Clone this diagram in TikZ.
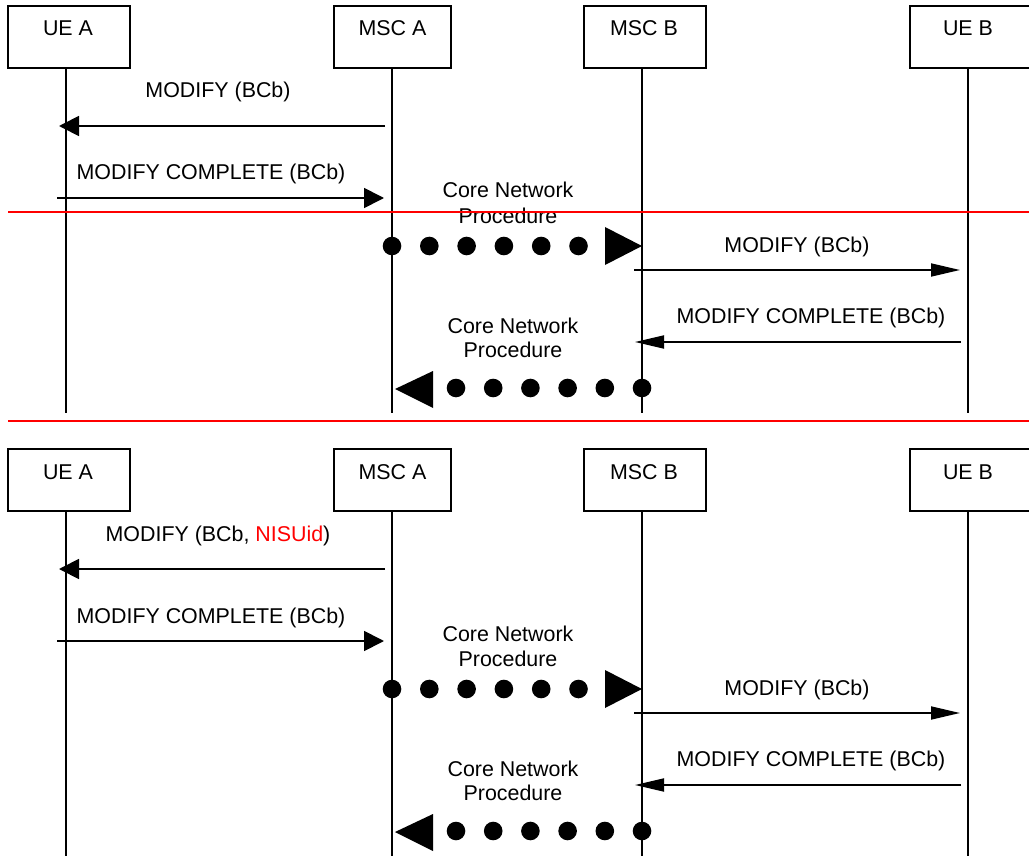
\documentclass[tikz,border=0pt]{standalone}
\usepackage{fontspec}
\setmainfont{Liberation Sans}
\usetikzlibrary{arrows.meta}
\tikzset{
  box/.style={draw, line width=1.6pt, minimum width=122pt, minimum height=62pt, inner sep=0pt},
  lbl/.style={font=\fontsize{21.4}{25}\selectfont, inner sep=0pt, anchor=base},
  life/.style={line width=1.6pt},
  msgA/.style={line width=1.8pt, -{Triangle[length=20pt,width=20pt]}},
  msgB/.style={line width=1.8pt, -{Triangle[length=29pt,width=13pt]}},
  redline/.style={draw=red, line width=1.8pt},
  dot/.style={fill=black},
}
\newcommand\seqpart[2]{%
  % boxes
  \node[box] (#1ua) at (69,37) {};
  \node[box, minimum width=117pt] (#1ma) at (392.5,37) {};
  \node[box] (#1mb) at (645,37) {};
  \node[box, minimum width=124pt] (#1ub) at (972,37) {};
  \node[lbl] (#1uat) at (68,36) {UE A};
  \node[lbl] (#1mat) at (392.5,36) {MSC A};
  \node[lbl] (#1mbt) at (644,36) {MSC B};
  \node[lbl] (#1ubt) at (968,36) {UE B};
  % lifelines
  \coordinate (#1LA) at (66,413);
  \coordinate (#1LB) at (392,413);
  \coordinate (#1LC) at (642,413);
  \coordinate (#1LD) at (968,413);
  \draw[life] (#1LA |- #1ua.south) -- (#1LA);
  \draw[life] (#1LB |- #1ma.south) -- (#1LB);
  \draw[life] (#1LC |- #1mb.south) -- (#1LC);
  \draw[life] (#1LD |- #1ub.south) -- (#1LD);
  % messages UE A <-> MSC A
  \node[lbl] (#1l1) at (218,98) {#2};
  \draw[msgA] ([xshift=-7pt]#1LB |- 0,126) -- ([xshift=-7pt]#1LA |- 0,126);
  \node[lbl] (#1l2) at (211,180) {MODIFY COMPLETE (BCb)};
  \draw[msgA] ([xshift=-9pt]#1LA |- 0,198) -- ([xshift=-8pt]#1LB |- 0,198);
  % core network procedure MSC A -> MSC B
  \node[lbl] (#1c1a) at (508,198) {Core Network};
  \node[lbl] (#1c1b) at (508,223) {Procedure};
  \foreach \k in {0,...,5} \fill[dot] ([xshift=\k*37.3pt]#1LB |- 0,246) circle (9.3pt);
  \fill[dot] (#1LC |- 0,246) -- ([xshift=-37pt]#1LC |- 0,227) -- ([xshift=-37pt]#1LC |- 0,265) -- cycle;
  % MSC B <-> UE B
  \node[lbl] (#1l3) at (797,252) {MODIFY (BCb)};
  \draw[msgB] ([xshift=-8pt]#1LC |- 0,270) -- ([xshift=-8pt]#1LD |- 0,270);
  \node[lbl] (#1l4) at (811,323) {MODIFY COMPLETE (BCb)};
  \draw[msgB] ([xshift=-7pt]#1LD |- 0,342) -- ([xshift=-7pt]#1LC |- 0,342);
  % core network procedure MSC B -> MSC A
  \node[lbl] (#1c2a) at (513,333) {Core Network};
  \node[lbl] (#1c2b) at (513,357) {Procedure};
  \foreach \k in {0,...,5} \fill[dot] ([xshift=-\k*37.2pt]#1LC |- 0,388) circle (9.3pt);
  \fill[dot] ([xshift=3pt]#1LB |- 0,389) -- ([xshift=41pt]#1LB |- 0,371) -- ([xshift=41pt]#1LB |- 0,408) -- cycle;
}
\begin{document}
\begin{tikzpicture}[x=1pt,y=-1pt]
  \useasboundingbox (0,0) rectangle (1029,856);
  \fill[white] (0,0) rectangle (1029,856);
  \begin{scope}
    \seqpart{t}{MODIFY (BCb)}
  \end{scope}
  \begin{scope}[yshift=-443pt]
    \seqpart{b}{MODIFY (BCb, \textcolor{red}{NISUid})}
  \end{scope}
  \coordinate (r1s) at (8,212);
  \coordinate (r1e) at (1029,212);
  \coordinate (r2s) at (8,421);
  \coordinate (r2e) at (1029,421);
  \draw[redline] (r1s) -- (r1e);
  \draw[redline] (r2s) -- (r2e);
\end{tikzpicture}
\end{document}
